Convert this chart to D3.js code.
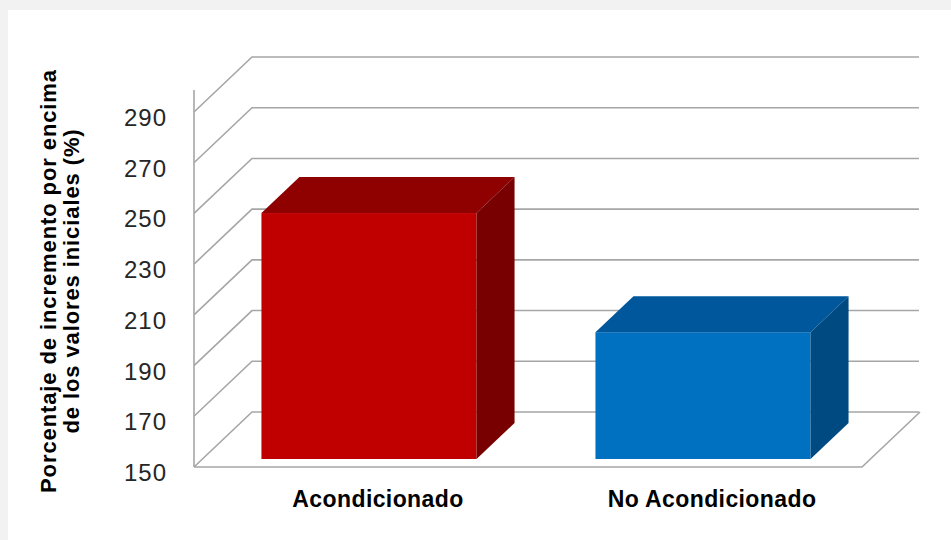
<!DOCTYPE html>
<html>
<head>
<meta charset="utf-8">
<script src="https://cdn.jsdelivr.net/npm/d3@7"></script>
<style>
  body { margin: 0; background: #f2f2f2; }
  svg { display: block; }
</style>
</head>
<body>
<svg id="plot"></svg>
<script>
// data
var categories = ['Acondicionado', 'No Acondicionado'];
var values = [247, 200];
var yTicks = [150, 170, 190, 210, 230, 250, 270, 290];
var titleLines = ['Porcentaje de incremento por encima', 'de los valores iniciales (%)'];

var width = 951, height = 540;

var frontColors = ['#c00000', '#0070c0'];
var topColors = ['#8f0000', '#00579b'];
var sideColors = ['#780000', '#004a82'];

// 3d depth offsets
var wallDepth = {dx: 58, dy: -55};
var barFront = {dx: 8, dy: -8};
var barBack = {dx: 46, dy: -44};

var svg = d3.select('#plot').attr('width', width).attr('height', height);

svg.append('rect')
    .attr('x', 8).attr('y', 10)
    .attr('width', width - 8).attr('height', height - 10)
    .attr('fill', '#ffffff');

var y = d3.scaleLinear().domain([150, 290]).range([467, 112]);
var x = d3.scaleBand().domain(categories).range([194, 862])
    .paddingInner(0.356).paddingOuter(0.178);

var x0 = 194, x1 = 862, backRight = 919;
var grid = svg.append('g')
    .attr('fill', 'none')
    .attr('stroke', '#a6a6a6')
    .attr('stroke-width', 1.6);

// left wall diagonals and back wall lines
yTicks.forEach(function(t) {
    grid.append('path')
        .attr('d', 'M' + x0 + ',' + y(t) +
            'L' + (x0 + wallDepth.dx) + ',' + (y(t) + wallDepth.dy) +
            'L' + backRight + ',' + (y(t) + wallDepth.dy));
});

// floor
grid.append('path')
    .attr('d', 'M' + x0 + ',' + y(150) + 'L' + x1 + ',' + y(150) +
        'L' + (x1 + wallDepth.dx) + ',' + (y(150) + wallDepth.dy));

// vertical axis
grid.append('line')
    .attr('x1', x0).attr('x2', x0)
    .attr('y1', 90).attr('y2', y(150));

// bars
var bars = svg.append('g');
categories.forEach(function(c, i) {
    var xl = x(c) + barFront.dx;
    var xr = xl + x.bandwidth();
    var yt = y(values[i]) + barFront.dy;
    var yb = y(150) + barFront.dy;
    var ddx = barBack.dx - barFront.dx, ddy = barBack.dy - barFront.dy;

    bars.append('rect')
        .attr('x', xl).attr('y', yt)
        .attr('width', xr - xl).attr('height', yb - yt)
        .attr('fill', frontColors[i]);

    bars.append('polygon')
        .attr('points', [[xl, yt], [xr, yt], [xr + ddx, yt + ddy], [xl + ddx, yt + ddy]].join(' '))
        .attr('fill', topColors[i]);

    bars.append('polygon')
        .attr('points', [[xr, yt], [xr + ddx, yt + ddy], [xr + ddx, yb + ddy], [xr, yb]].join(' '))
        .attr('fill', sideColors[i]);
});

// y tick labels
svg.append('g')
    .selectAll('text')
    .data(yTicks)
    .enter().append('text')
    .attr('x', 167)
    .attr('y', function(d) { return y(d) + 14; })
    .attr('text-anchor', 'end')
    .attr('font-family', 'Liberation Sans, Arial, sans-serif')
    .attr('font-size', 24)
    .attr('letter-spacing', 1)
    .attr('fill', '#262626')
    .text(function(d) { return d; });

// category labels
svg.append('g')
    .selectAll('text')
    .data(categories)
    .enter().append('text')
    .attr('x', function(d) { return x(d) + x.bandwidth() / 2 + 17; })
    .attr('y', 507)
    .attr('text-anchor', 'middle')
    .attr('font-family', 'Liberation Sans, Arial, sans-serif')
    .attr('font-weight', 'bold')
    .attr('font-size', 23)
    .attr('letter-spacing', 0.4)
    .attr('fill', '#000')
    .text(function(d) { return d; });

// y title
var title = svg.append('text')
    .attr('transform', 'translate(0,281) rotate(-90)')
    .attr('text-anchor', 'middle')
    .attr('font-family', 'Liberation Sans, Arial, sans-serif')
    .attr('font-weight', 'bold')
    .attr('font-size', 22)
    .attr('letter-spacing', 0.9)
    .attr('fill', '#000');
titleLines.forEach(function(t, i) {
    title.append('tspan')
        .attr('x', 0)
        .attr('y', 56 + i * 23)
        .text(t);
});
</script>
</body>
</html>
